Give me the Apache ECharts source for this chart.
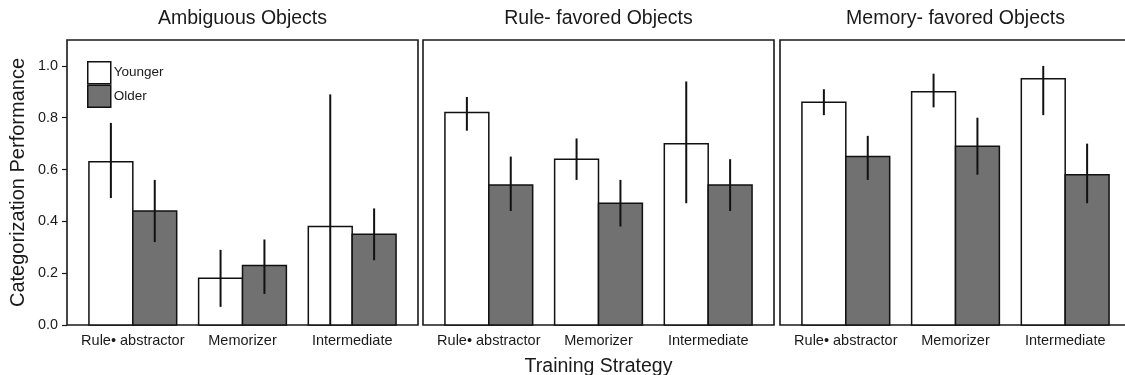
<!DOCTYPE html>
<html>
<head>
<meta charset="utf-8">
<script src="https://cdn.jsdelivr.net/npm/echarts@6/dist/echarts.min.js"></script>
<style>html,body{margin:0;padding:0;background:#fff}#c{width:1125px;height:375px}</style>
</head>
<body>
<div id="c"></div>
<script>
// ---- data ----
const categories = ['Rule\u2022 abstractor', 'Memorizer', 'Intermediate'];
const panelTitles = ['Ambiguous Objects', 'Rule- favored Objects', 'Memory- favored Objects'];
const groups = ['Younger', 'Older'];
const yTicks = [0, 0.2, 0.4, 0.6, 0.8, 1.0];

// Ambiguous Objects
const ambYounger = [0.63, 0.18, 0.38];
const ambYoungerLo = [0.49, 0.07, 0.00];
const ambYoungerHi = [0.78, 0.29, 0.89];
const ambOlder = [0.44, 0.23, 0.35];
const ambOlderLo = [0.32, 0.12, 0.25];
const ambOlderHi = [0.56, 0.33, 0.45];

// Rule-favored Objects
const ruleYounger = [0.82, 0.64, 0.70];
const ruleYoungerLo = [0.75, 0.56, 0.47];
const ruleYoungerHi = [0.88, 0.72, 0.94];
const ruleOlder = [0.54, 0.47, 0.54];
const ruleOlderLo = [0.44, 0.38, 0.44];
const ruleOlderHi = [0.65, 0.56, 0.64];

// Memory-favored Objects
const memYounger = [0.86, 0.90, 0.95];
const memYoungerLo = [0.81, 0.84, 0.81];
const memYoungerHi = [0.91, 0.97, 1.00];
const memOlder = [0.65, 0.69, 0.58];
const memOlderLo = [0.56, 0.58, 0.47];
const memOlderHi = [0.73, 0.80, 0.70];

const panels = [
  {young: ambYounger, yLo: ambYoungerLo, yHi: ambYoungerHi, old: ambOlder, oLo: ambOlderLo, oHi: ambOlderHi},
  {young: ruleYounger, yLo: ruleYoungerLo, yHi: ruleYoungerHi, old: ruleOlder, oLo: ruleOlderLo, oHi: ruleOlderHi},
  {young: memYounger, yLo: memYoungerLo, yHi: memYoungerHi, old: memOlder, oLo: memOlderLo, oHi: memOlderHi}
];

// ---- styling / layout ----
const FONT = '"Liberation Sans", Arial, Helvetica, sans-serif';
const TXT = '#1a1a1a';
const fills = {Younger: '#ffffff', Older: '#717171'};
const gridLefts = [67, 423, 780];
const gridW = 351, gridTop = 40, gridH = 285;
const half = 0.2; // half bar width in axis units
const offsets = {Younger: -0.2, Older: 0.2};

const chart = echarts.init(document.getElementById('c'), null, {renderer: 'canvas'});

const grids = [], xAxes = [], yAxes = [], series = [], graphics = [];
panels.forEach((p, i) => {
  grids.push({left: gridLefts[i], top: gridTop, width: gridW, height: gridH, show: true,
    borderColor: '#1a1a1a', borderWidth: 1.6, backgroundColor: 'transparent',
    containLabel: false, outerBoundsMode: 'none'});
  xAxes.push({
    type: 'value', gridIndex: i, min: 0.4, max: 3.6,
    axisLine: {show: false}, axisTick: {show: false}, splitLine: {show: false},
    axisLabel: {customValues: [1, 2, 3], formatter: v => categories[Math.round(v) - 1] || '',
      color: TXT, fontSize: 14.5, fontFamily: FONT, margin: 8},
    name: i === 1 ? 'Training Strategy' : '', nameLocation: 'middle', nameGap: 32,
    nameTextStyle: {fontSize: 19.5, color: TXT, fontFamily: FONT}
  });
  yAxes.push({
    type: 'value', gridIndex: i, min: 0, max: 1.1,
    axisLine: {show: false}, splitLine: {show: false},
    axisTick: {show: i === 0, customValues: yTicks, length: 5, lineStyle: {color: '#1a1a1a', width: 1.2}},
    axisLabel: {show: i === 0, customValues: yTicks, formatter: v => v.toFixed(1),
      color: TXT, fontSize: 14.4, fontFamily: FONT, margin: 9},
    name: i === 0 ? 'Categorization Performance' : '', nameLocation: 'middle', nameGap: 39,
    nameTextStyle: {fontSize: 20, color: TXT, fontFamily: FONT}
  });

  const sets = [
    {g: 'Younger', vals: p.young, lo: p.yLo, hi: p.yHi},
    {g: 'Older', vals: p.old, lo: p.oLo, hi: p.oHi}
  ];
  sets.forEach(s => {
    series.push({
      type: 'custom', name: s.g, xAxisIndex: i, yAxisIndex: i,
      itemStyle: {color: fills[s.g], borderColor: '#111', borderWidth: 1.5},
      data: s.vals.map((v, k) => [k + 1 + offsets[s.g], v]),
      renderItem: (params, api) => {
        const x = api.value(0), v = api.value(1);
        const a = api.coord([x - half, v]);
        const b = api.coord([x + half, 0]);
        return {type: 'rect', shape: {x: a[0], y: a[1], width: b[0] - a[0], height: b[1] - a[1]},
          style: {fill: fills[s.g], stroke: '#111', lineWidth: 1.5}};
      },
      silent: true, animation: false
    });
  });
  sets.forEach(s => {
    series.push({
      type: 'custom', name: s.g, xAxisIndex: i, yAxisIndex: i,
      data: s.vals.map((v, k) => [k + 1 + offsets[s.g], s.lo[k], s.hi[k]]),
      renderItem: (params, api) => {
        const x = api.value(0);
        const a = api.coord([x, api.value(1)]);
        const b = api.coord([x, api.value(2)]);
        return {type: 'line', shape: {x1: a[0], y1: a[1], x2: b[0], y2: b[1]},
          style: {stroke: '#111', lineWidth: 2}};
      },
      z: 5, silent: true, animation: false
    });
  });

  graphics.push({type: 'text', x: gridLefts[i] + gridW / 2, y: 9,
    style: {text: panelTitles[i], fill: TXT, font: '19.5px ' + FONT, textAlign: 'center'}});
});

chart.setOption({
  animation: false,
  backgroundColor: '#fff',
  grid: grids, xAxis: xAxes, yAxis: yAxes, series: series,
  legend: {
    orient: 'vertical', left: 87, top: 61, padding: 0, itemWidth: 23, itemHeight: 22, itemGap: 0,
    selectedMode: false,
    data: [
      {name: 'Younger', icon: 'rect', itemStyle: {color: '#ffffff', borderColor: '#111', borderWidth: 1.5}},
      {name: 'Older', icon: 'rect', itemStyle: {color: '#717171', borderColor: '#111', borderWidth: 1.5}}
    ],
    textStyle: {fontSize: 13.5, color: TXT, fontFamily: FONT, padding: [0, 0, 0, -2]}
  },
  graphic: graphics
});
</script>
</body>
</html>
